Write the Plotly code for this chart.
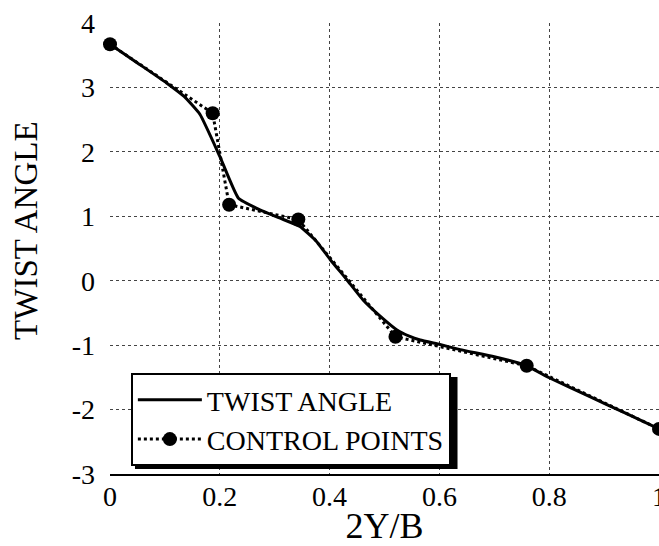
import plotly.graph_objects as go

# Twist angle distribution (solid curve)
twist_x = [0, 0.05, 0.103, 0.135, 0.164, 0.2, 0.234, 0.273, 0.310, 0.346, 0.375, 0.401, 0.431,
           0.461, 0.492, 0.522, 0.545, 0.565, 0.601, 0.638, 0.70, 0.753, 0.801, 0.874, 0.94, 1.0]
twist_y = [3.67, 3.38, 3.07, 2.86, 2.58, 1.93, 1.28, 1.10, 0.97, 0.84, 0.62, 0.33, 0.02,
           -0.30, -0.55, -0.76, -0.86, -0.92, -0.99, -1.07, -1.18, -1.30, -1.51, -1.80, -2.06, -2.30]

# Control points (dotted with markers)
control_x = [0, 0.187, 0.217, 0.343, 0.52, 0.759, 1.0]
control_y = [3.67, 2.60, 1.18, 0.95, -0.87, -1.32, -2.30]

# Tick labels
x_ticks = [0, 0.2, 0.4, 0.6, 0.8, 1.0]
x_ticktext = ["0", "0.2", "0.4", "0.6", "0.8", "1"]
y_ticks = [-3, -2, -1, 0, 1, 2, 3, 4]
y_ticktext = ["-3", "-2", "-1", "0", "1", "2", "3", "4"]

FONT = "Liberation Serif"

fig = go.Figure()
fig.add_trace(go.Scatter(
    x=twist_x, y=twist_y, mode="lines", name="TWIST ANGLE",
    line=dict(color="black", width=3, shape="spline", smoothing=0.4), cliponaxis=False,
))
fig.add_trace(go.Scatter(
    x=control_x, y=control_y, mode="lines+markers", name="CONTROL POINTS",
    line=dict(color="black", width=3, dash="dot"),
    marker=dict(color="black", size=14, symbol="circle"), cliponaxis=False,
))

grid = dict(showgrid=True, gridcolor="#444", gridwidth=1, griddash="dot",
            zeroline=False, ticks="", automargin=False, ticklabeloverflow="allow",
            tickfont=dict(family=FONT, size=28, color="black"))

fig.update_xaxes(range=[0, 1], tickvals=x_ticks, ticktext=x_ticktext,
                 showline=True, linecolor="black", linewidth=2,
                 title=dict(text="2Y/B", font=dict(family=FONT, size=36, color="black"), standoff=23),
                 ticklabelstandoff=-4, **grid)
fig.update_yaxes(range=[-3, 4], tickvals=y_ticks, ticktext=y_ticktext,
                 showline=False, ticklabelstandoff=14, **grid)

# y-axis title
fig.add_annotation(text="TWIST ANGLE", xref="paper", yref="paper",
                   x=-0.152, y=0.538, xanchor="center", yanchor="middle",
                   textangle=-90, showarrow=False,
                   font=dict(family=FONT, size=33, color="black"))

# legend shadow
fig.add_shape(type="rect", xref="paper", yref="paper",
              x0=0.0455, x1=0.633, y0=0.011, y1=0.215,
              fillcolor="black", line=dict(width=0), layer="above")

fig.update_layout(
    width=659, height=546,
    margin=dict(l=110, r=0, t=23, b=72),
    paper_bgcolor="white", plot_bgcolor="white",
    font=dict(family=FONT, color="black"),
    showlegend=True,
    legend=dict(x=0.038, y=0.224, xanchor="left", yanchor="top",
                bgcolor="white", bordercolor="black", borderwidth=2,
                font=dict(family=FONT, size=28, color="black"),
                tracegroupgap=0, itemwidth=64),
)

fig.write_html("out.html")
